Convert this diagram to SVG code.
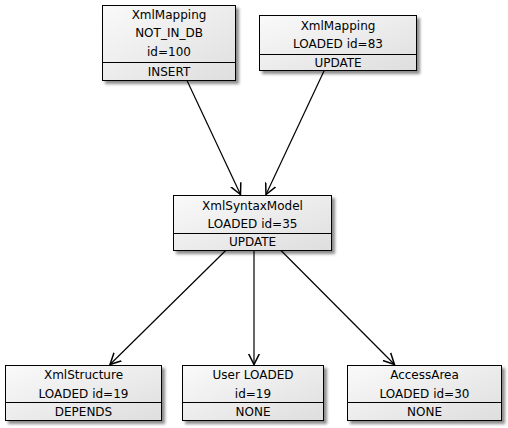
<svg xmlns="http://www.w3.org/2000/svg" width="508" height="428" viewBox="0 0 508 428">
<style>
.box{fill:url(#g);stroke:#000;stroke-width:1;filter:url(#sh)}
.sep{stroke:#000;stroke-width:1}
text{font-family:"DejaVu Sans",Verdana,sans-serif;font-size:12px;fill:#000;text-anchor:middle}
.edge{stroke:#000;stroke-width:1.2;fill:none;marker-end:url(#arr)}
</style>
<defs>
<linearGradient id="g" x1="0" y1="0" x2="1" y2="1">
<stop offset="0" stop-color="#fafafa"/>
<stop offset="1" stop-color="#dedede"/>
</linearGradient>
<filter id="sh" x="-10%" y="-10%" width="130%" height="140%">
<feDropShadow dx="3" dy="3" stdDeviation="1.5" flood-color="#000" flood-opacity="0.45"/>
</filter>
<marker id="arr" markerUnits="userSpaceOnUse" markerWidth="14" markerHeight="14" refX="11" refY="6" orient="auto" viewBox="0 0 14 12">
<path d="M0,0.5 L11,6 L0,11.5" fill="none" stroke="#000" stroke-width="1.5"/>
</marker>
</defs>
<g id="connectors">
<line class="edge" x1="187" y1="80.5" x2="240.5" y2="194.5"/>
<line class="edge" x1="324" y1="71" x2="266" y2="194.5"/>
<line class="edge" x1="225.7" y1="250.5" x2="110" y2="364.5"/>
<line class="edge" x1="254" y1="250.5" x2="254" y2="364.5"/>
<line class="edge" x1="281" y1="250.5" x2="394.5" y2="364.5"/>
</g>
<g id="xmlmapping100">
<rect class="box" x="102.5" y="5.5" width="133" height="75"/>
<line class="sep" x1="102.5" y1="62.5" x2="235.5" y2="62.5"/>
<text x="169" y="18.5">XmlMapping</text>
<text x="169" y="37">NOT_IN_DB</text>
<text x="169" y="55.5">id=100</text>
<text x="169" y="75.5">INSERT</text>
</g>
<g id="xmlmapping83">
<rect class="box" x="259.5" y="15.5" width="157" height="55"/>
<line class="sep" x1="259.5" y1="54.5" x2="416.5" y2="54.5"/>
<text x="338" y="29.5">XmlMapping</text>
<text x="338" y="48">LOADED id=83</text>
<text x="338" y="66.5">UPDATE</text>
</g>
<g id="xmlsyntaxmodel">
<rect class="box" x="173.5" y="195.5" width="158" height="55"/>
<line class="sep" x1="173.5" y1="233.5" x2="331.5" y2="233.5"/>
<text x="252.5" y="209.5">XmlSyntaxModel</text>
<text x="252.5" y="228">LOADED id=35</text>
<text x="252.5" y="246">UPDATE</text>
</g>
<g id="xmlstructure">
<rect class="box" x="5.5" y="365.5" width="156" height="55"/>
<line class="sep" x1="5.5" y1="402.5" x2="161.5" y2="402.5"/>
<text x="83.5" y="379">XmlStructure</text>
<text x="83.5" y="397.5">LOADED id=19</text>
<text x="83.5" y="415.5">DEPENDS</text>
</g>
<g id="user">
<rect class="box" x="182.5" y="365.5" width="141" height="55"/>
<line class="sep" x1="182.5" y1="402.5" x2="323.5" y2="402.5"/>
<text x="253" y="379">User LOADED</text>
<text x="253" y="397.5">id=19</text>
<text x="253" y="415.5">NONE</text>
</g>
<g id="accessarea">
<rect class="box" x="347.5" y="365.5" width="154" height="55"/>
<line class="sep" x1="347.5" y1="402.5" x2="501.5" y2="402.5"/>
<text x="424.5" y="379">AccessArea</text>
<text x="424.5" y="397.5">LOADED id=30</text>
<text x="424.5" y="415.5">NONE</text>
</g>
</svg>
